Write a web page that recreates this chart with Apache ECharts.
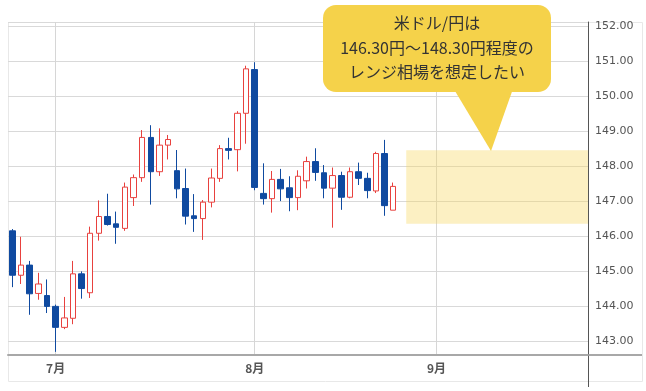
<!DOCTYPE html>
<html>
<head>
<meta charset="utf-8">
<script src="https://cdn.jsdelivr.net/npm/echarts@6/dist/echarts.min.js"></script>
<style>
html,body{margin:0;padding:0;background:#fff;}
#chart{width:646px;height:391px;}
</style>
</head>
<body>
<div id="chart"></div>
<script>
// Trading days (weekdays), 2025-06-24 .. 2025-09-24
const categories = [
  '2025-06-24','2025-06-25','2025-06-26','2025-06-27','2025-06-30',
  '2025-07-01','2025-07-02','2025-07-03','2025-07-04','2025-07-07','2025-07-08','2025-07-09','2025-07-10','2025-07-11',
  '2025-07-14','2025-07-15','2025-07-16','2025-07-17','2025-07-18','2025-07-21','2025-07-22','2025-07-23','2025-07-24','2025-07-25',
  '2025-07-28','2025-07-29','2025-07-30','2025-07-31',
  '2025-08-01','2025-08-04','2025-08-05','2025-08-06','2025-08-07','2025-08-08','2025-08-11','2025-08-12','2025-08-13','2025-08-14','2025-08-15',
  '2025-08-18','2025-08-19','2025-08-20','2025-08-21','2025-08-22','2025-08-25','2025-08-26','2025-08-27','2025-08-28','2025-08-29',
  '2025-09-01','2025-09-02','2025-09-03','2025-09-04','2025-09-05','2025-09-08','2025-09-09','2025-09-10','2025-09-11','2025-09-12',
  '2025-09-15','2025-09-16','2025-09-17','2025-09-18','2025-09-19','2025-09-22','2025-09-23','2025-09-24'
];

// OHLC values (first 45 trading days)
const opens  = [146.15,144.88,145.17,144.36,144.30,143.99,143.39,143.65,144.92,144.38,146.08,146.56,146.35,146.22,147.10,147.67,148.82,147.84,148.60,147.87,147.36,146.58,146.50,146.97,147.65,148.50,148.47,149.51,150.76,147.22,147.07,147.62,147.38,147.10,147.58,148.13,147.81,147.37,147.73,147.11,147.84,147.65,147.29,148.36,146.74];
const closes = [144.88,145.17,144.35,144.63,143.99,143.39,143.66,144.92,144.50,146.08,146.56,146.33,146.25,147.40,147.67,148.82,147.84,148.60,148.76,147.35,146.57,146.50,146.97,147.66,148.50,148.45,149.51,150.78,147.39,147.07,147.62,147.35,147.10,147.71,148.13,147.82,147.37,147.73,147.11,147.84,147.65,147.30,148.36,146.87,147.42];
const lows   = [144.54,144.63,143.75,144.18,143.80,142.69,143.34,143.48,144.21,144.23,145.87,146.30,145.78,146.15,146.86,147.55,146.90,147.72,148.19,147.08,146.33,146.12,145.89,146.82,147.55,148.19,147.85,148.64,147.31,146.90,146.67,147.00,146.71,146.74,147.36,147.58,147.08,146.24,146.75,147.08,147.46,147.08,147.23,146.58,146.74];
const highs  = [146.20,145.98,145.29,144.95,144.76,144.04,144.26,145.29,144.99,146.27,147.02,147.21,146.70,147.53,147.76,149.03,149.17,149.08,148.89,148.46,147.93,147.20,147.03,147.93,148.60,148.81,149.57,150.87,150.97,148.08,147.86,147.92,147.71,147.88,148.27,148.51,148.03,147.96,147.84,147.96,148.10,147.81,148.41,148.75,147.53];

// Month labels
const monthStartDates = ['2025-07-01','2025-08-01','2025-09-01'];
const monthLabels = ['7月','8月','9月'];

// Expected range (as drawn)
const rangeStartDate = '2025-08-27';
const rangeHigh = 148.45;
const rangeLow = 146.35;

// Y axis extent
const yMin = 142.6;
const yMax = 152.12;

const calloutLines = ['米ドル/円は', '146.30円〜148.30円程度の', 'レンジ相場を想定したい'];

const candleData = opens.map((o, i) => [o, closes[i], lows[i], highs[i]]);
const rangeStartIdx = categories.indexOf(rangeStartDate) - 0.5;
const rangeEndIdx = categories.length - 0.5;

const chart = echarts.init(document.getElementById('chart'), null, {renderer: 'canvas'});

const BLUE = '#0f4aa0';
const RED = '#e8413e';
const CALLOUT_FONT = '16px "Noto Sans CJK JP"';

chart.setOption({
  animation: false,
  backgroundColor: '#fff',
  grid: {left: 8, top: 22, right: 58, bottom: 36, containLabel: false},
  xAxis: [
    {
      type: 'category',
      data: categories,
      boundaryGap: true,
      axisLine: {show: true, onZero: false, lineStyle: {color: '#a8a8a8', width: 2}},
      axisTick: {show: false},
      axisLabel: {
        interval: (i, v) => monthStartDates.indexOf(v) >= 0,
        formatter: v => monthLabels[monthStartDates.indexOf(v)],
        color: '#555', fontSize: 12, fontWeight: 'bold',
        fontFamily: 'Noto Sans CJK JP', margin: 7
      },
      splitLine: {
        show: true,
        alignWithLabel: true,
        interval: (i, v) => monthStartDates.indexOf(v) >= 0,
        lineStyle: {color: '#d6d6d6', width: 1}
      }
    },
    {
      type: 'value', min: -0.5, max: categories.length - 0.5, show: false
    }
  ],
  yAxis: {
    type: 'value',
    position: 'right',
    min: yMin, max: yMax,
    splitNumber: 10,
    scale: true,
    axisLine: {show: true, onZero: false, lineStyle: {color: '#555', width: 1}},
    axisTick: {show: false},
    axisLabel: {
      showMinLabel: false, showMaxLabel: false,
      formatter: v => v.toFixed(2),
      color: '#555', fontSize: 11, fontFamily: 'DejaVu Sans', margin: 7
    },
    splitLine: {show: true, lineStyle: {color: '#d9d9d9', width: 1}}
  },
  series: [
    {
      type: 'line',
      xAxisIndex: 1,
      yAxisIndex: 0,
      data: [],
      silent: true,
      markArea: {
        silent: true,
        itemStyle: {color: 'rgba(247,214,90,0.36)'},
        data: [[{xAxis: rangeStartIdx, yAxis: rangeHigh}, {xAxis: rangeEndIdx, yAxis: rangeLow}]]
      }
    },
    {
      type: 'candlestick',
      xAxisIndex: 0,
      yAxisIndex: 0,
      data: candleData,
      barWidth: 6,
      itemStyle: {
        color: '#ffffff',
        color0: BLUE,
        borderColor: RED,
        borderColor0: BLUE,
        borderWidth: 1
      }
    }
  ],
  graphic: [
    {type: 'rect', silent: true, z: -1, shape: {x: 8.5, y: 22.5, width: 634, height: 359}, style: {fill: 'none', stroke: '#e8e8e8', lineWidth: 1}},
    {type: 'line', silent: true, shape: {x1: 588, y1: 355, x2: 642, y2: 355}, style: {stroke: '#a8a8a8', lineWidth: 2}},
    {type: 'line', silent: true, shape: {x1: 588.5, y1: 22, x2: 588.5, y2: 387}, style: {stroke: '#555', lineWidth: 1}},
    {type: 'polygon', silent: true, z: 100, shape: {points: [[452, 86], [514, 86], [491, 151]]}, style: {fill: '#f5d24a'}},
    {type: 'rect', silent: true, z: 100, shape: {x: 323, y: 5, width: 228, height: 87, r: 13}, style: {fill: '#f5d24a'}},
    {type: 'text', silent: true, z: 101, x: 437, y: 23, style: {text: calloutLines[0], fill: '#333', font: CALLOUT_FONT, align: 'center', verticalAlign: 'middle'}},
    {type: 'text', silent: true, z: 101, x: 437, y: 48, style: {text: calloutLines[1], fill: '#333', font: CALLOUT_FONT, align: 'center', verticalAlign: 'middle'}},
    {type: 'text', silent: true, z: 101, x: 437, y: 72, style: {text: calloutLines[2], fill: '#333', font: CALLOUT_FONT, align: 'center', verticalAlign: 'middle'}}
  ]
});
</script>
</body>
</html>
